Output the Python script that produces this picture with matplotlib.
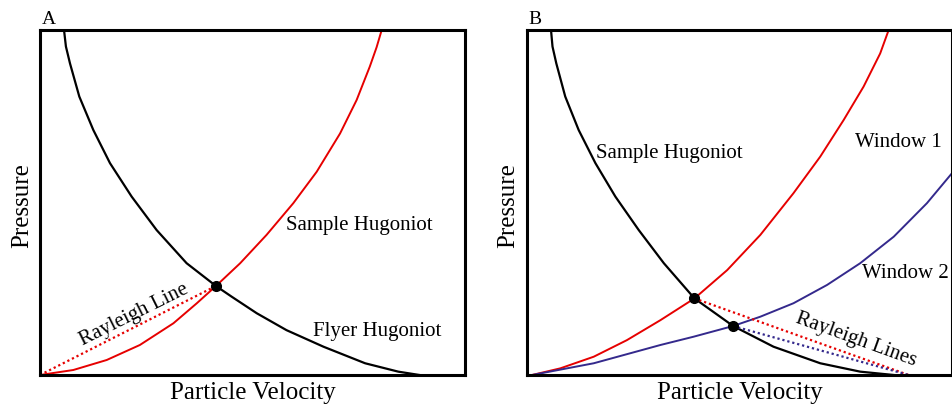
import matplotlib
matplotlib.use("Agg")
import matplotlib.pyplot as plt

plt.rcParams['font.family'] = ['Liberation Serif', 'DejaVu Serif']

# ---------------- Panel A data (normalised particle velocity / pressure) ----------------
flyer_u = [0.0565, 0.061, 0.0706, 0.0925, 0.1255, 0.1647, 0.2157, 0.2745, 0.345,
           0.414, 0.451, 0.510, 0.580, 0.667, 0.765, 0.843, 0.893]
flyer_p = [1.0, 0.952, 0.903, 0.807, 0.710, 0.614, 0.517, 0.420, 0.324,
           0.258, 0.227, 0.179, 0.130, 0.082, 0.034, 0.0097, 0.0]

sampleA_u = [0.0, 0.0784, 0.157, 0.235, 0.314, 0.369, 0.414, 0.471, 0.533, 0.596,
             0.651, 0.706, 0.745, 0.776, 0.792, 0.804]
sampleA_p = [0.0, 0.0145, 0.0435, 0.087, 0.150, 0.208, 0.258, 0.324, 0.406, 0.498,
             0.589, 0.700, 0.797, 0.894, 0.950, 1.0]

rayleighA_u = [0.0, 0.414]
rayleighA_p = [0.0, 0.258]
pointA_u = [0.414]
pointA_p = [0.258]

# ---------------- Panel B data ----------------
sampleB_u = [0.0565, 0.060, 0.069, 0.090, 0.1216, 0.161, 0.208, 0.263, 0.322,
             0.394, 0.485, 0.580, 0.690, 0.784, 0.863]
sampleB_p = [1.0, 0.952, 0.903, 0.807, 0.710, 0.614, 0.517, 0.420, 0.324,
             0.222, 0.142, 0.082, 0.034, 0.0097, 0.0]

window1_u = [0.0118, 0.0784, 0.157, 0.235, 0.314, 0.394, 0.471, 0.549, 0.627, 0.690,
             0.745, 0.792, 0.831, 0.851]
window1_p = [0.0, 0.0193, 0.053, 0.101, 0.159, 0.222, 0.304, 0.406, 0.527, 0.633,
             0.739, 0.836, 0.932, 1.0]

window2_u = [0.0118, 0.157, 0.314, 0.392, 0.485, 0.549, 0.627, 0.706, 0.784, 0.863,
             0.941, 1.0]
window2_p = [0.0, 0.034, 0.087, 0.111, 0.142, 0.169, 0.208, 0.261, 0.324, 0.401,
             0.498, 0.585]

rayleighB1_u = [0.394, 0.898]
rayleighB1_p = [0.222, 0.0]
rayleighB2_u = [0.485, 0.898]
rayleighB2_p = [0.142, 0.0]
pointsB_u = [0.394, 0.485]
pointsB_p = [0.222, 0.142]

RED = '#E60000'
BLUE = '#34298C'
DOT = (0, (1, 1.3))

fig = plt.figure(figsize=(9.53, 4.05), dpi=100)
axA = fig.add_axes([40 / 953, 30 / 405, 425 / 953, 345 / 405])
axB = fig.add_axes([527 / 953, 30 / 405, 425 / 953, 345 / 405])

for ax in (axA, axB):
    ax.set_xlim(0, 1)
    ax.set_ylim(0, 1)
    ax.set_xticks([])
    ax.set_yticks([])
    for s in ax.spines.values():
        s.set_linewidth(2.2)
        s.set_color('black')
    ax.text(0.5, -0.052, 'Particle Velocity', transform=ax.transAxes,
            ha='center', va='center', fontsize=18)

axA.text(-0.042, 0.491, 'Pressure', transform=axA.transAxes, rotation=90,
         ha='center', va='center', fontsize=18)
axB.text(-0.045, 0.491, 'Pressure', transform=axB.transAxes, rotation=90,
         ha='center', va='center', fontsize=18)

# Panel A
axA.plot(flyer_u, flyer_p, color='black', lw=1.6, solid_joinstyle='round')
axA.plot(sampleA_u, sampleA_p, color=RED, lw=1.4, solid_joinstyle='round')
axA.plot(rayleighA_u, rayleighA_p, color=RED, lw=1.6, linestyle=DOT)
axA.plot(pointA_u, pointA_p, 'o', color='black', markersize=7, zorder=5)
axA.text(0.5795, 0.432, 'Sample Hugoniot', transform=axA.transAxes,
         ha='left', va='center', fontsize=15)
axA.text(0.642, 0.1255, 'Flyer Hugoniot', transform=axA.transAxes,
         ha='left', va='center', fontsize=15)
axA.text(0.221, 0.174, 'Rayleigh Line', transform=axA.transAxes,
         ha='center', va='center', fontsize=15, rotation=26.5,
         rotation_mode='anchor')
axA.text(0.004, 1.0174, 'A', transform=axA.transAxes, ha='left',
         va='baseline', fontsize=14)

# Panel B
axB.plot(sampleB_u, sampleB_p, color='black', lw=1.6, solid_joinstyle='round')
axB.plot(window1_u, window1_p, color=RED, lw=1.4, solid_joinstyle='round')
axB.plot(window2_u, window2_p, color=BLUE, lw=1.4, solid_joinstyle='round')
axB.plot(rayleighB1_u, rayleighB1_p, color=RED, lw=1.6, linestyle=DOT)
axB.plot(rayleighB2_u, rayleighB2_p, color=BLUE, lw=1.6, linestyle=DOT)
axB.plot(pointsB_u, pointsB_p, 'o', color='black', markersize=7, zorder=5)
axB.text(0.1616, 0.643, 'Sample Hugoniot', transform=axB.transAxes,
         ha='left', va='center', fontsize=15)
axB.text(0.772, 0.675, 'Window 1', transform=axB.transAxes,
         ha='left', va='center', fontsize=15)
axB.text(0.7875, 0.295, 'Window 2', transform=axB.transAxes,
         ha='left', va='center', fontsize=15)
axB.text(0.775, 0.101, 'Rayleigh Lines', transform=axB.transAxes,
         ha='center', va='center', fontsize=15, rotation=-20,
         rotation_mode='anchor')
axB.text(0.0024, 1.0174, 'B', transform=axB.transAxes, ha='left',
         va='baseline', fontsize=14)

fig.savefig('out.png', dpi=100)
